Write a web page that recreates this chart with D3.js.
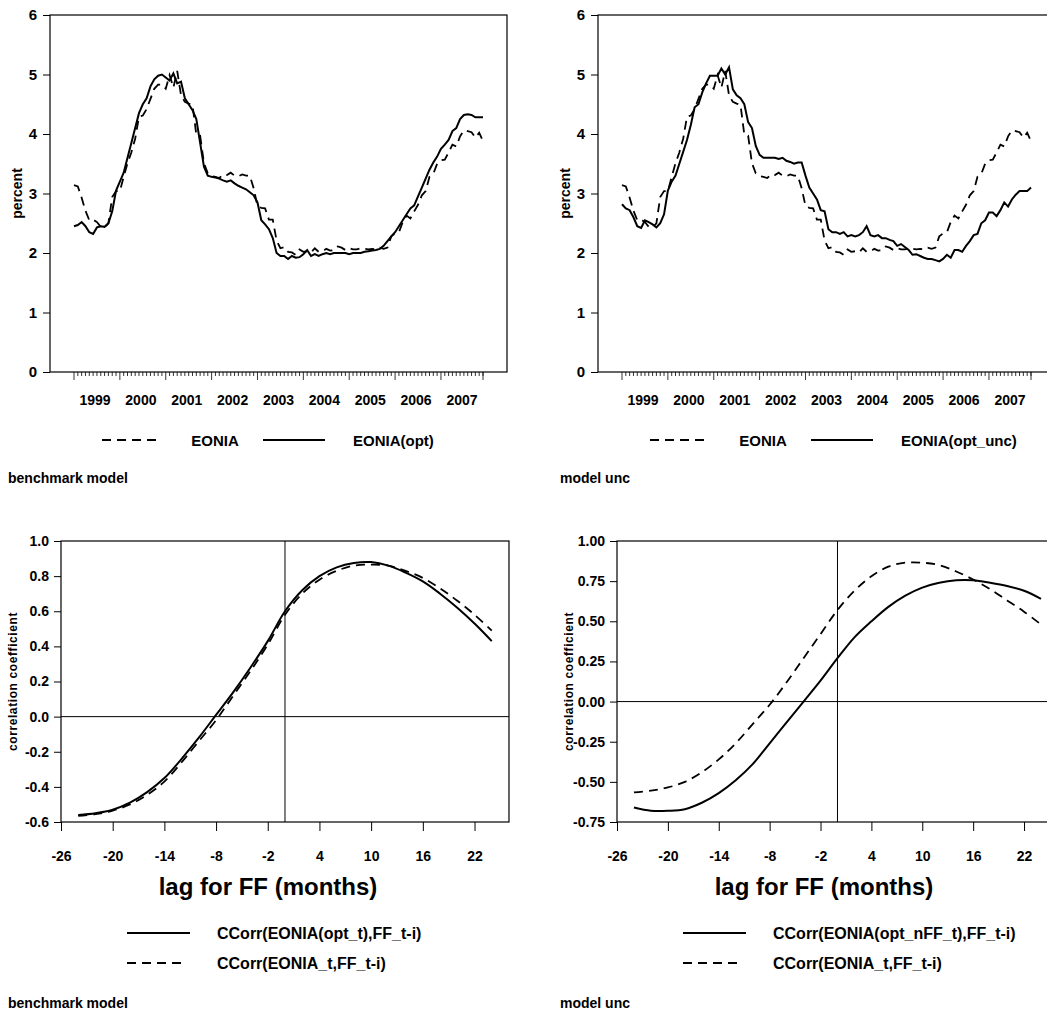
<!DOCTYPE html>
<html>
<head>
<meta charset="utf-8">
<script src="https://cdn.jsdelivr.net/npm/d3@7"></script>
<style>
  body { margin: 0; background: #fff; }
  svg, svg text { font-family: "Liberation Sans", Arial, sans-serif !important; font-weight: bold; }
</style>
</head>
<body>
<svg id="chart" width="1047" height="1013"></svg>
<script>
// years on the time axis (monthly data, Jan 1999 - Dec 2007)
var years = [1999, 2000, 2001, 2002, 2003, 2004, 2005, 2006, 2007];

// EONIA, monthly average (dashed in both top panels)
var eonia = [
  3.14,3.12,2.93,2.71,2.55,2.56,2.52,2.44,2.43,2.50,2.94,3.04,
  3.04,3.28,3.51,3.69,3.92,4.29,4.31,4.42,4.59,4.76,4.83,4.83,
  4.76,4.99,4.78,5.06,4.65,4.54,4.51,4.49,3.99,3.97,3.51,3.34,
  3.29,3.28,3.26,3.32,3.31,3.35,3.30,3.29,3.32,3.30,3.30,3.09,
  2.79,2.76,2.75,2.56,2.56,2.21,2.08,2.10,2.02,2.01,1.97,2.06,
  2.02,2.03,2.01,2.08,2.02,2.03,2.07,2.04,2.05,2.11,2.09,2.05,
  2.08,2.06,2.06,2.08,2.07,2.06,2.07,2.06,2.09,2.07,2.09,2.28,
  2.33,2.35,2.52,2.63,2.58,2.70,2.81,2.97,3.04,3.28,3.33,3.50,
  3.56,3.57,3.69,3.82,3.79,3.96,4.06,4.05,4.03,3.94,4.02,3.88
];

// EONIA(opt), benchmark model
var eoniaOpt = [
  2.45,2.47,2.52,2.45,2.35,2.32,2.43,2.45,2.44,2.50,2.70,3.05,
  3.20,3.35,3.60,3.85,4.10,4.35,4.50,4.60,4.80,4.92,4.98,5.00,
  4.95,4.90,5.02,4.85,4.88,4.60,4.50,4.40,4.25,3.85,3.45,3.30,
  3.28,3.27,3.25,3.22,3.20,3.22,3.17,3.13,3.10,3.07,3.02,2.97,
  2.85,2.55,2.48,2.40,2.25,2.00,1.95,1.95,1.90,1.95,1.92,1.93,
  1.98,2.05,1.95,1.98,1.95,1.98,2.00,1.98,2.00,2.00,2.00,2.00,
  1.98,2.00,2.00,2.00,2.02,2.03,2.04,2.05,2.07,2.12,2.20,2.28,
  2.35,2.45,2.55,2.65,2.75,2.80,2.95,3.10,3.25,3.40,3.52,3.62,
  3.75,3.82,3.90,4.05,4.10,4.25,4.32,4.33,4.32,4.28,4.28,4.28
];

// EONIA(opt_unc), model unc
var eoniaOptUnc = [
  2.82,2.75,2.72,2.60,2.45,2.42,2.55,2.52,2.48,2.43,2.50,2.65,
  3.05,3.20,3.30,3.50,3.70,3.90,4.15,4.45,4.50,4.70,4.85,4.98,
  4.98,4.98,5.10,5.00,5.12,4.75,4.65,4.60,4.50,4.20,4.10,3.80,
  3.65,3.60,3.60,3.60,3.60,3.58,3.60,3.55,3.53,3.50,3.52,3.52,
  3.30,3.10,3.00,2.90,2.72,2.70,2.40,2.35,2.35,2.32,2.35,2.28,
  2.30,2.28,2.30,2.35,2.45,2.30,2.28,2.30,2.25,2.25,2.22,2.20,
  2.12,2.15,2.10,2.05,1.97,1.98,1.95,1.92,1.90,1.90,1.88,1.86,
  1.90,1.97,1.92,2.05,2.05,2.02,2.12,2.20,2.30,2.32,2.50,2.55,
  2.68,2.68,2.62,2.72,2.85,2.78,2.90,2.98,3.04,3.04,3.04,3.10
];

// cross-correlation lags (months)
var lags = [-24,-22,-20,-18,-16,-14,-12,-10,-8,-6,-4,-2,0,2,4,6,8,10,12,14,16,18,20,22,24];
var ccOptBench = [-0.56,-0.55,-0.53,-0.49,-0.43,-0.35,-0.24,-0.12,0.01,0.14,0.28,0.43,0.60,0.72,0.80,0.85,0.875,0.88,0.86,0.82,0.77,0.70,0.62,0.53,0.43];
var ccEoniaBench = [-0.565,-0.555,-0.535,-0.50,-0.445,-0.37,-0.26,-0.14,-0.02,0.12,0.26,0.41,0.58,0.70,0.78,0.83,0.86,0.865,0.86,0.83,0.79,0.73,0.66,0.58,0.49];
var ccOptUnc = [-0.66,-0.68,-0.68,-0.67,-0.63,-0.57,-0.49,-0.39,-0.26,-0.13,0.0,0.13,0.27,0.40,0.50,0.59,0.66,0.71,0.74,0.755,0.755,0.74,0.72,0.69,0.64];
var ccEoniaUnc = [-0.565,-0.555,-0.535,-0.50,-0.44,-0.36,-0.26,-0.14,-0.02,0.12,0.27,0.42,0.57,0.69,0.78,0.84,0.865,0.865,0.85,0.81,0.76,0.70,0.63,0.56,0.48];

var lagTicks = [-26,-20,-14,-8,-2,4,10,16,22];
var benchTicks = [-0.6,-0.4,-0.2,0.0,0.2,0.4,0.6,0.8,1.0];
var uncTicks = [-0.75,-0.5,-0.25,0,0.25,0.5,0.75,1.0];

var svg = d3.select('#chart');
var DASH = '9,6';

function drawTimePanel(left, solid, legendSolid, caption) {
   var top = 15, bottom = 372, w = 457;
   var g = svg.append('g');
   var x = d3.scaleLinear().domain([0, 107]).range([left + 24, left + 433]);
   var y = d3.scaleLinear().domain([0, 6]).range([bottom, top]);

   // frame
   g.append('rect').attr('x', left).attr('y', top).attr('width', w).attr('height', bottom - top)
      .attr('fill', 'none').attr('stroke', '#000').attr('stroke-width', 1.2);

   // y axis
   var ya = g.append('g').attr('transform', 'translate(' + left + ',0)')
      .call(d3.axisLeft(y).tickValues([0,1,2,3,4,5,6]).tickSize(7).tickPadding(6).tickFormat(d3.format('d')));
   ya.select('.domain').remove();
   ya.selectAll('text').attr('font-size', 15);

   // month ticks
   var months = d3.range(0, 108);
   g.selectAll('.mt').data(months).enter().append('line')
      .attr('x1', function(d) { return x(d); }).attr('x2', function(d) { return x(d); })
      .attr('y1', bottom).attr('y2', function(d) { return bottom + (d % 12 === 0 ? 8 : 4); })
      .attr('stroke', '#000').attr('stroke-width', 0.8);
   g.append('line').attr('x1', x(107)).attr('x2', x(107)).attr('y1', bottom).attr('y2', bottom + 8)
      .attr('stroke', '#000').attr('stroke-width', 0.8);
   g.selectAll('.yl').data(years).enter().append('text')
      .attr('x', function(d, i) { return x(i * 12 + 5.5); }).attr('y', bottom + 33)
      .attr('text-anchor', 'middle').attr('font-size', 14).text(function(d) { return d; });

   g.append('text').attr('transform', 'translate(' + (left - 28) + ',' + ((top + bottom) / 2) + ') rotate(-90)')
      .attr('text-anchor', 'middle').attr('font-size', 14).text('percent');

   var line = d3.line().x(function(d, i) { return x(i); }).y(function(d) { return y(d); });
   g.append('path').datum(eonia).attr('d', line).attr('fill', 'none').attr('stroke', '#000')
      .attr('stroke-width', 1.8).attr('stroke-dasharray', DASH);
   g.append('path').datum(solid).attr('d', line).attr('fill', 'none').attr('stroke', '#000')
      .attr('stroke-width', 2);

   // legend
   var ly = 440;
   g.append('line').attr('x1', left + 52).attr('x2', left + 110).attr('y1', ly).attr('y2', ly)
      .attr('stroke', '#000').attr('stroke-width', 1.8).attr('stroke-dasharray', DASH);
   g.append('text').attr('x', left + 165).attr('y', ly + 6).attr('text-anchor', 'middle').attr('font-size', 15).text('EONIA');
   g.append('line').attr('x1', left + 213).attr('x2', left + 275).attr('y1', ly).attr('y2', ly)
      .attr('stroke', '#000').attr('stroke-width', 2);
   g.append('text').attr('x', left + 303).attr('y', ly + 6).attr('font-size', 15).text(legendSolid);

   svg.append('text').attr('x', left < 100 ? 8 : 560).attr('y', 483).attr('font-size', 14).text(caption);
}

function drawCorrPanel(left, scaleW, ticks, fmt, solid, dashed, legendSolid, caption) {
   var top = 541, bottom = 822;
   var g = svg.append('g');
   var x = d3.scaleLinear().domain([-26, 26]).range([left, left + 52 * scaleW]);
   var y = d3.scaleLinear().domain([ticks[0], ticks[ticks.length - 1]]).range([bottom, top]);
   var right = x(26);

   g.append('rect').attr('x', left).attr('y', top).attr('width', right - left).attr('height', bottom - top)
      .attr('fill', 'none').attr('stroke', '#000').attr('stroke-width', 1.2);
   g.append('line').attr('x1', left).attr('x2', right).attr('y1', y(0)).attr('y2', y(0)).attr('stroke', '#000').attr('stroke-width', 1);
   g.append('line').attr('x1', x(0)).attr('x2', x(0)).attr('y1', top).attr('y2', bottom).attr('stroke', '#000').attr('stroke-width', 1);

   var ya = g.append('g').attr('transform', 'translate(' + left + ',0)')
      .call(d3.axisLeft(y).tickValues(ticks).tickSize(7).tickPadding(5).tickFormat(d3.format(fmt)));
   ya.select('.domain').remove();
   ya.selectAll('text').attr('font-size', 14)
      .text(function(d) { return d3.format(fmt)(d).replace('−', '-'); });

   var xa = g.append('g').attr('transform', 'translate(0,' + bottom + ')')
      .call(d3.axisBottom(x).tickValues(lagTicks).tickSize(9).tickPadding(20));
   xa.select('.domain').remove();
   xa.selectAll('text').attr('font-size', 14).text(function(d) { return String(d); });

   g.append('text').attr('x', left + 207).attr('y', 895).attr('text-anchor', 'middle').attr('font-size', 24)
      .text('lag for FF (months)');
   g.append('text').attr('transform', 'translate(' + (left - 44) + ',' + ((top + bottom) / 2) + ') rotate(-90)')
      .attr('text-anchor', 'middle').attr('font-size', 12).attr('letter-spacing', 0.6).text('correlation coefficient');

   var line = d3.line().curve(d3.curveCatmullRom)
      .x(function(d, i) { return x(lags[i]); }).y(function(d) { return y(d); });
   g.append('path').datum(dashed).attr('d', line).attr('fill', 'none').attr('stroke', '#000')
      .attr('stroke-width', 1.8).attr('stroke-dasharray', DASH);
   g.append('path').datum(solid).attr('d', line).attr('fill', 'none').attr('stroke', '#000')
      .attr('stroke-width', 2);

   // legend
   var lx = left + 66;
   g.append('line').attr('x1', lx).attr('x2', lx + 63).attr('y1', 933).attr('y2', 933).attr('stroke', '#000').attr('stroke-width', 2);
   g.append('text').attr('x', lx + 90).attr('y', 939).attr('font-size', 16).text(legendSolid);
   g.append('line').attr('x1', lx).attr('x2', lx + 60).attr('y1', 963).attr('y2', 963).attr('stroke', '#000')
      .attr('stroke-width', 1.8).attr('stroke-dasharray', DASH);
   g.append('text').attr('x', lx + 90).attr('y', 969).attr('font-size', 16).text('CCorr(EONIA_t,FF_t-i)');

   svg.append('text').attr('x', left < 100 ? 8 : 560).attr('y', 1008).attr('font-size', 14).text(caption);
}

drawTimePanel(50, eoniaOpt, 'EONIA(opt)', 'benchmark model');
drawTimePanel(598, eoniaOptUnc, 'EONIA(opt_unc)', 'model unc');
drawCorrPanel(61, 8.615, benchTicks, '.1f', ccOptBench, ccEoniaBench, 'CCorr(EONIA(opt_t),FF_t-i)', 'benchmark model');
drawCorrPanel(617, 8.48, uncTicks, '.2f', ccOptUnc, ccEoniaUnc, 'CCorr(EONIA(opt_nFF_t),FF_t-i)', 'model unc');
</script>
</body>
</html>
